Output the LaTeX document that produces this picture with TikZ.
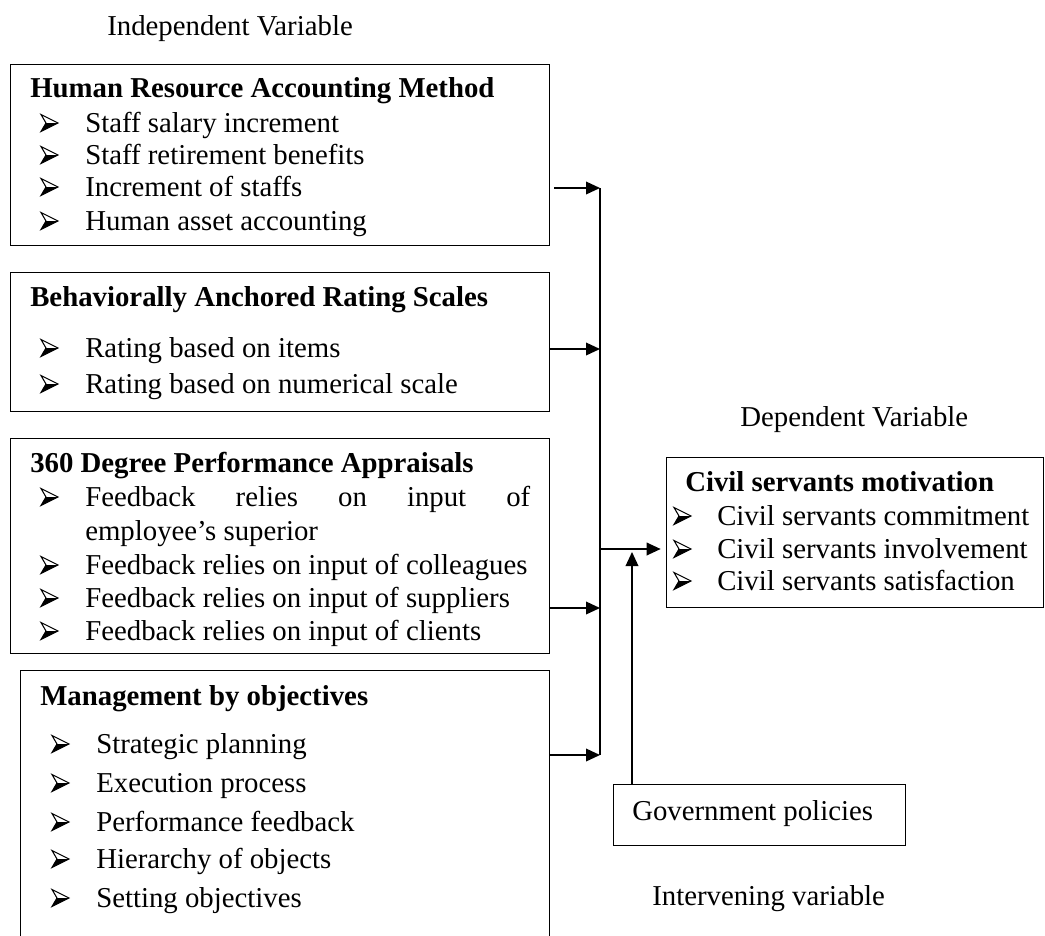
\documentclass[tikz,border=0pt]{standalone}
\usepackage{fontspec}
\setmainfont{Liberation Serif}
\usetikzlibrary{arrows.meta}
\begin{document}
\begin{tikzpicture}[x=0.75pt,y=-0.75pt,
  box/.style={draw, line width=1.1pt, rectangle, inner sep=0pt, anchor=north west},
  txt/.style={anchor=base west, inner sep=0pt, font=\fontsize{21.6}{26}\selectfont},
  ttl/.style={anchor=base west, inner sep=0pt, font=\fontsize{21.6}{26}\selectfont\bfseries},
  conn/.style={line width=1.1pt, -{Triangle[length=10.5pt,width=9.5pt]}},
  spine/.style={line width=1.1pt},
  bul/.pic={\fill (0,8.5)--(17,0)--(5,0)--cycle;
            \draw[line width=0.8pt, line join=miter] (0,-8.5)--(17,0)--(0,8.5)--(5,0)--cycle;}]
\useasboundingbox (0,0) rectangle (1045,935);

% boxes
\node[box, minimum width=404.25pt, minimum height=135.75pt] (b1) at (10,64) {};
\node[box, minimum width=404.25pt, minimum height=104.25pt] (b2) at (10,272) {};
\node[box, minimum width=404.25pt, minimum height=161.25pt] (b3) at (10,438) {};
\node[box, minimum width=396.75pt, minimum height=210pt] (b4) at (20,670) {};
\node[box, minimum width=282.75pt, minimum height=112.5pt] (civ) at (666,457) {};
\node[box, minimum width=219pt, minimum height=45.75pt] (gov) at (613,784) {};

% headings
\node[txt] (indep) at (107,36) {Independent Variable};
\node[txt] (dep) at (740,426) {Dependent Variable};
\node[txt] (interv) at (652,905) {Intervening variable};

% box 1
\node[ttl] (b1t) at (30,97) {Human Resource Accounting Method};
\node[txt] (b1a) at (85,132) {Staff salary increment};
\node[txt] (b1b) at (85,164) {Staff retirement benefits};
\node[txt] (b1c) at (85,196) {Increment of staffs};
\node[txt] (b1d) at (85,230) {Human asset accounting};
\foreach \y in {132,164,196,230} \pic at (41,\y-9) {bul};

% box 2
\node[ttl] (b2t) at (30,306) {Behaviorally Anchored Rating Scales};
\node[txt] (b2a) at (85,357) {Rating based on items};
\node[txt] (b2b) at (85,393) {Rating based on numerical scale};
\foreach \y in {357,393} \pic at (41,\y-9) {bul};

% box 3
\node[ttl] (b3t) at (30,472) {360 Degree Performance Appraisals};
\node[txt] (b3a) at (85,506) {\makebox[333.75pt][s]{Feedback relies on input of}};
\node[txt] (b3b) at (85,540) {employee’s superior};
\node[txt] (b3c) at (85,574) {Feedback relies on input of colleagues};
\node[txt] (b3d) at (85,607) {Feedback relies on input of suppliers};
\node[txt] (b3e) at (85,640) {Feedback relies on input of clients};
\foreach \y in {506,574,607,640} \pic at (41,\y-9) {bul};

% box 4
\node[ttl] (b4t) at (40,705) {Management by objectives};
\node[txt] (b4a) at (96,753) {Strategic planning};
\node[txt] (b4b) at (96,792) {Execution process};
\node[txt] (b4c) at (96,831) {Performance feedback};
\node[txt] (b4d) at (96,868) {Hierarchy of objects};
\node[txt] (b4e) at (96,907) {Setting objectives};
\foreach \y in {753,792,831,868,907} \pic at (52,\y-9) {bul};

% civil servants box
\node[ttl] (ct) at (685,491) {Civil servants motivation};
\node[txt] (ca) at (717,525) {Civil servants commitment};
\node[txt] (cb) at (717,558) {Civil servants involvement};
\node[txt] (cc) at (717,590) {Civil servants satisfaction};
\foreach \y in {525,558,590} \pic at (674,\y-9) {bul};

% government box
\node[txt] (gt) at (632,820) {Government policies};

% connectors
\coordinate (j1) at (600,188);
\coordinate (j2) at (600,349);
\coordinate (j3) at (600,608);
\coordinate (j4) at (600,755);
\coordinate (jm) at (600,549);
\coordinate (gx) at (632,552);
\draw[conn] ([xshift=3pt]b1.east |- j1) -- (j1);
\draw[conn] (b2.east |- j2) -- (j2);
\draw[conn] (b3.east |- j3) -- (j3);
\draw[conn] (b4.east |- j4) -- (j4);
\draw[spine] (j1) -- (j4);
\draw[conn, shorten >=4pt] (jm) -- (civ.west |- jm);
\draw[conn] (gov.north -| gx) -- (gx);
\end{tikzpicture}
\end{document}
